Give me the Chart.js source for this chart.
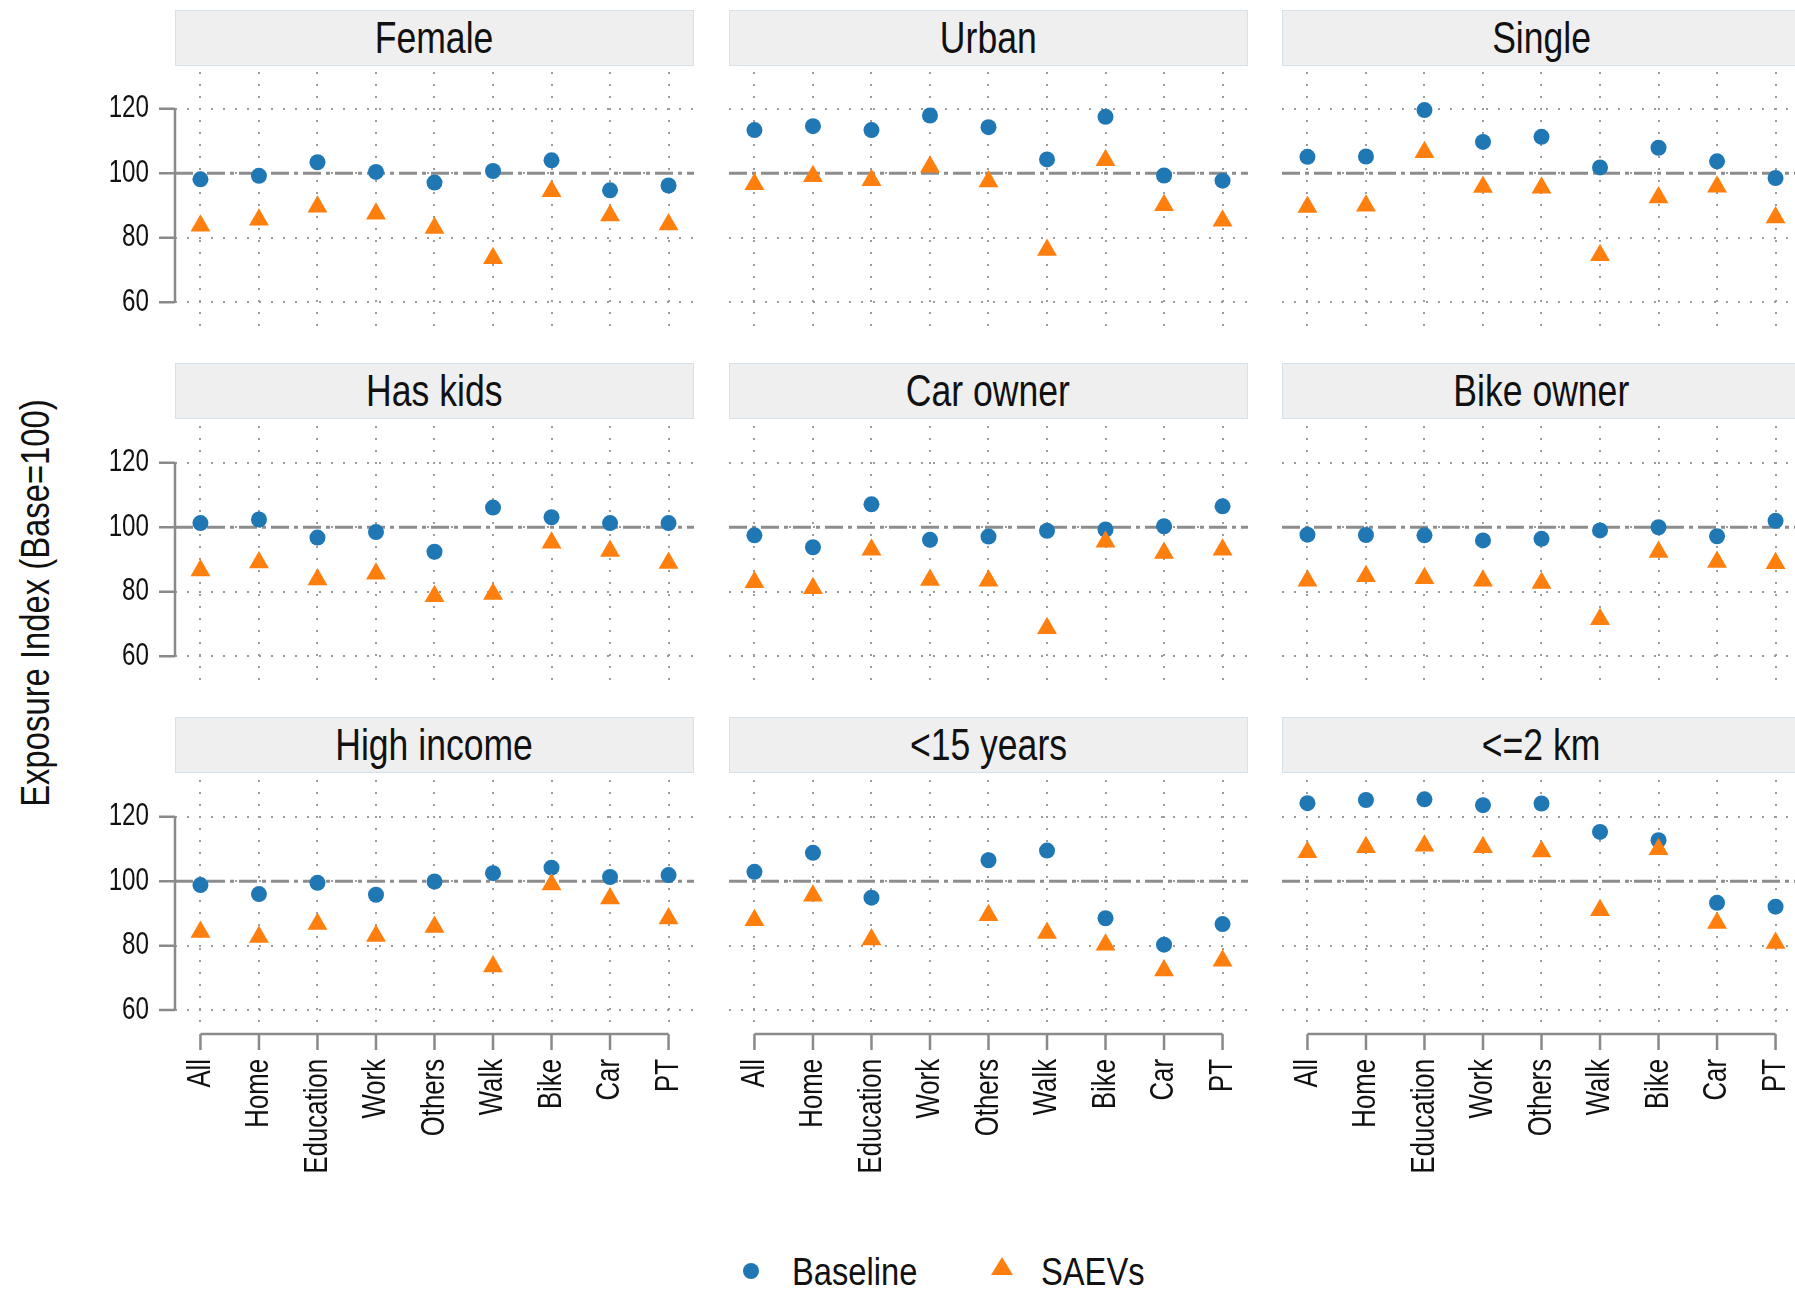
<!DOCTYPE html>
<html>
<head>
<meta charset="utf-8">
<title>Exposure index by group</title>
<script src="https://cdn.jsdelivr.net/npm/chart.js@4.4.1/dist/chart.umd.min.js"></script>
<style>
  html, body { margin: 0; padding: 0; background: #fff; }
  body {
    width: 1795px; height: 1293px; position: relative; overflow: hidden;
    font-family: 'Liberation Sans', Arial, sans-serif;
    color: #111;
  }
  canvas { position: absolute; }
  .strip {
    position: absolute; box-sizing: border-box; height: 56px; width: 519px;
    background: #efefef; border: 1.5px solid #d4e2ea;
    display: flex; align-items: center; justify-content: center;
    font-size: 45px; white-space: nowrap;
  }
  /* the typeface used here is a condensed sans, so squeeze the regular one */
  .strip span { display: inline-block; transform: scaleX(0.79); }
  #ytitle {
    position: absolute; left: 35px; top: 603px; font-size: 41px; white-space: nowrap;
    transform: translate(-50%, -50%) rotate(-90deg) scaleX(0.8);
  }
  .key {
    position: absolute; font-size: 38px; line-height: 40px; top: 1252px;
    transform: scaleX(0.86); transform-origin: left center;
  }
  .dot { position: absolute; width: 16px; height: 16px; border-radius: 50%; background: #1f77b4; left: 743px; top: 1263px; }
  .tri { position: absolute; left: 990px; top: 1256px; }
</style>
</head>
<body>
<div id="ytitle">Exposure Index (Base=100)</div>
<div class="dot"></div>
<div class="key" style="left:792px">Baseline</div>
<svg class="tri" width="24" height="21"><polygon points="12,1 23,19 1,19" fill="#ff7f0e"/></svg>
<div class="key" style="left:1041px">SAEVs</div>

<script>
// trip purposes / modes along the x axis
const categories = ['All', 'Home', 'Education', 'Work', 'Others', 'Walk', 'Bike', 'Car', 'PT'];
const yTicks = [60, 80, 100, 120];
const refLevel = 100;

// exposure index per group, baseline vs. SAEVs scenario
const femaleBaseline = [98.1, 99.2, 103.4, 100.4, 97.1, 100.7, 104.0, 94.7, 96.2];
const femaleSaevs    = [83.7, 85.6, 89.6, 87.4, 83.0, 73.6, 94.4, 86.9, 84.1];
const urbanBaseline  = [113.4, 114.6, 113.4, 117.9, 114.3, 104.3, 117.5, 99.3, 97.7];
const urbanSaevs     = [96.6, 99.1, 97.8, 102.0, 97.4, 76.2, 104.0, 90.1, 85.3];
const singleBaseline = [105.1, 105.2, 119.6, 109.7, 111.3, 101.8, 107.9, 103.7, 98.5];
const singleSaevs    = [89.5, 89.9, 106.5, 95.7, 95.5, 74.6, 92.5, 95.8, 86.3];
const kidsBaseline   = [101.3, 102.4, 96.8, 98.5, 92.4, 106.1, 103.1, 101.3, 101.3];
const kidsSaevs      = [86.6, 89.1, 83.8, 85.6, 78.6, 79.3, 95.2, 92.6, 88.9];
const carBaseline    = [97.5, 93.8, 107.1, 96.1, 97.1, 98.9, 99.3, 100.3, 106.5];
const carSaevs       = [82.9, 81.1, 93.0, 83.6, 83.4, 68.7, 95.5, 92.0, 93.0];
const bikeBaseline   = [97.7, 97.6, 97.5, 95.9, 96.4, 99.0, 100.0, 97.2, 102.0];
const bikeSaevs      = [83.4, 84.8, 84.2, 83.4, 82.7, 71.5, 92.3, 89.2, 88.8];
const incomeBaseline = [98.8, 96.0, 99.5, 95.8, 99.9, 102.5, 104.2, 101.3, 101.9];
const incomeSaevs    = [84.2, 82.7, 86.7, 83.0, 85.8, 73.5, 99.0, 94.6, 88.4];
const youngBaseline  = [102.9, 108.8, 94.9, null, 106.5, 109.5, 88.5, 80.3, 86.7];
const youngSaevs     = [87.9, 95.5, 81.9, null, 89.4, 83.9, 80.3, 72.3, 75.3];
const shortBaseline  = [124.2, 125.2, 125.4, 123.6, 124.1, 115.3, 112.7, 93.3, 92.1];
const shortSaevs     = [109.0, 110.5, 111.0, 110.5, 109.2, 91.0, 109.9, 87.0, 80.8];

const panels = [
  ['Female', femaleBaseline, femaleSaevs],
  ['Urban', urbanBaseline, urbanSaevs],
  ['Single', singleBaseline, singleSaevs],
  ['Has kids', kidsBaseline, kidsSaevs],
  ['Car owner', carBaseline, carSaevs],
  ['Bike owner', bikeBaseline, bikeSaevs],
  ['High income', incomeBaseline, incomeSaevs],
  ['<15 years', youngBaseline, youngSaevs],
  ['<=2 km', shortBaseline, shortSaevs],
];

const FONT = "'Liberation Sans', Arial, sans-serif";
const SQUEEZE = 0.78;   // condensed look for tick labels
const BLUE = '#1f77b4';
const ORANGE = '#ff7f0e';
const AXIS = '#8a8a8a';
const GRID = '#9c9c9c';

// facet grid geometry
const colLeft = [175, 728.5, 1282];
const stripTop = [10, 363, 717];
const areaTop = [72, 426, 780];
const panelWidth = 519;

// dash-dot reference line, range-frame axes (lines only span the ticks) and
// condensed tick labels placed through the chart's own scales
const framePlugin = {
  id: 'frame',
  beforeDatasetsDraw(chart) {
    const { ctx, chartArea, scales: { y } } = chart;
    const py = y.getPixelForValue(refLevel);
    ctx.save();
    ctx.strokeStyle = '#8d8d8d';
    ctx.lineWidth = 3;
    ctx.setLineDash([18, 5, 4, 5]);
    ctx.beginPath();
    ctx.moveTo(chartArea.left, py);
    ctx.lineTo(chartArea.right, py);
    ctx.stroke();
    ctx.restore();
  },
  afterDraw(chart, args, opts) {
    const { ctx, chartArea, scales: { x, y } } = chart;
    ctx.save();
    ctx.strokeStyle = AXIS;
    ctx.lineWidth = 2.5;
    ctx.beginPath();
    if (opts.left) {
      const x0 = chartArea.left;
      ctx.moveTo(x0, y.getPixelForValue(yTicks[0]));
      ctx.lineTo(x0, y.getPixelForValue(yTicks[yTicks.length - 1]));
      yTicks.forEach(v => {
        const p = y.getPixelForValue(v);
        ctx.moveTo(x0 - 16, p);
        ctx.lineTo(x0, p);
      });
    }
    if (opts.bottom) {
      const y0 = chartArea.bottom + 11;
      ctx.moveTo(x.getPixelForValue(0), y0);
      ctx.lineTo(x.getPixelForValue(categories.length - 1), y0);
      categories.forEach((c, i) => {
        const p = x.getPixelForValue(i);
        ctx.moveTo(p, y0);
        ctx.lineTo(p, y0 + 16);
      });
    }
    ctx.stroke();

    ctx.fillStyle = '#111';
    ctx.textBaseline = 'middle';
    ctx.textAlign = 'right';
    if (opts.left) {
      ctx.font = `31px ${FONT}`;
      yTicks.forEach(v => {
        ctx.save();
        ctx.translate(chartArea.left - 26, y.getPixelForValue(v));
        ctx.scale(SQUEEZE, 1);
        ctx.fillText(String(v), 0, 0);
        ctx.restore();
      });
    }
    if (opts.bottom) {
      ctx.font = `33px ${FONT}`;
      categories.forEach((c, i) => {
        ctx.save();
        ctx.translate(x.getPixelForValue(i), chartArea.bottom + 36);
        ctx.rotate(-Math.PI / 2);
        ctx.scale(SQUEEZE, 1);
        ctx.fillText(c, 0, 0);
        ctx.restore();
      });
    }
    ctx.restore();
  }
};

function toPoints(values) {
  return values.map((v, i) => ({ x: i, y: v }));
}

function makePanel([title, baseline, saevs], idx) {
  const row = Math.floor(idx / 3);
  const col = idx % 3;
  const isLeft = col === 0;
  const isBottom = row === 2;
  const yAxisW = isLeft ? 110 : 0;
  const xAxisH = isBottom ? 170 : 0;
  const areaH = isBottom ? 243 : 256;

  // strip label above the panel
  const strip = document.createElement('div');
  strip.className = 'strip';
  strip.style.left = colLeft[col] + 'px';
  strip.style.top = stripTop[row] + 'px';
  const label = document.createElement('span');
  label.textContent = title;
  strip.appendChild(label);
  document.body.appendChild(strip);

  const canvas = document.createElement('canvas');
  canvas.width = yAxisW + panelWidth;
  canvas.height = areaH + xAxisH;
  canvas.style.left = (colLeft[col] - yAxisW) + 'px';
  canvas.style.top = areaTop[row] + 'px';
  document.body.appendChild(canvas);

  new Chart(canvas, {
    type: 'scatter',
    data: {
      datasets: [
        {
          label: 'Baseline',
          data: toPoints(baseline),
          pointStyle: 'circle',
          pointRadius: 8,
          pointHoverRadius: 8,
          backgroundColor: BLUE,
          borderWidth: 0,
          order: 2,
        },
        {
          label: 'SAEVs',
          data: toPoints(saevs),
          pointStyle: 'triangle',
          pointRadius: 11.5,
          pointHoverRadius: 11.5,
          backgroundColor: ORANGE,
          borderWidth: 0,
          order: 1,
        },
      ],
    },
    options: {
      responsive: false,
      animation: false,
      layout: { padding: 0, autoPadding: false },
      plugins: {
        legend: { display: false },
        tooltip: { enabled: false },
        frame: { left: isLeft, bottom: isBottom },
      },
      scales: {
        x: {
          type: 'linear',
          min: -0.435,
          max: 8.435,
          afterBuildTicks: s => { s.ticks = categories.map((c, i) => ({ value: i })); },
          afterFit: s => { s.height = xAxisH; s.paddingLeft = 0; s.paddingRight = 0; },
          grid: { color: GRID, lineWidth: 2, drawTicks: false },
          border: { display: false, dash: [2, 10] },
          ticks: { display: false },
        },
        y: {
          min: isBottom ? 56 : 52,
          max: 131.4,
          afterBuildTicks: s => { s.ticks = yTicks.map(v => ({ value: v })); },
          afterFit: s => { s.width = yAxisW; s.paddingTop = 0; s.paddingBottom = 0; },
          grid: { color: GRID, lineWidth: 2, drawTicks: false },
          border: { display: false, dash: [2, 10] },
          ticks: { display: false },
        },
      },
    },
    plugins: [framePlugin],
  });
}

panels.forEach(makePanel);
</script>
</body>
</html>
